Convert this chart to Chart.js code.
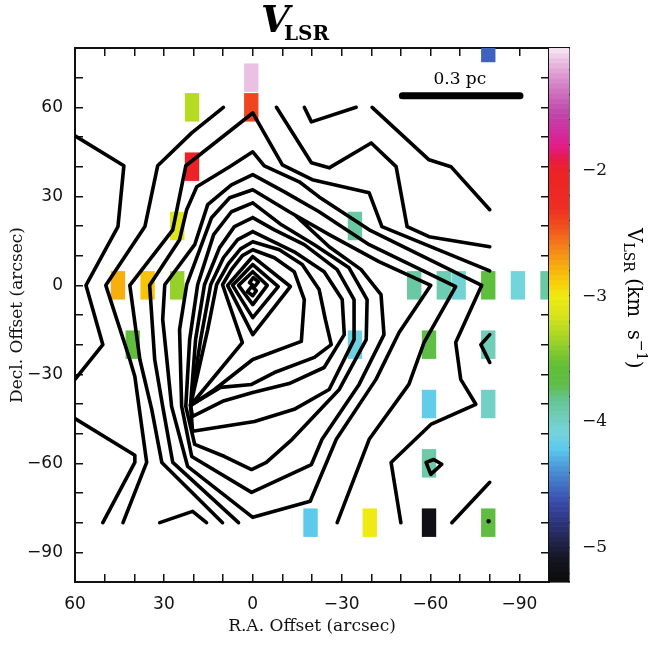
<!DOCTYPE html>
<html>
<head>
<meta charset="utf-8">
<script src="https://cdn.jsdelivr.net/npm/chart.js@4.4.1/dist/chart.umd.min.js"></script>
<style>
  html, body { margin: 0; padding: 0; background: #fff; }
  #wrap { position: relative; width: 654px; height: 645px; }
  #wrap canvas { position: absolute; left: 0; top: 0; }
</style>
</head>
<body>
<div id="wrap">
  <canvas id="map" width="654" height="645"></canvas>
  <canvas id="cbar" width="654" height="645"></canvas>
</div>
<script>
// VLSR map: velocity cells under the intensity contours, with the colour bar on the right.

// tick labels (arcsec, km/s)
const raLabels = [60, 30, 0, -30, -60, -90];
const decLabels = [60, 30, 0, -30, -60, -90];
const velLabels = [-2, -3, -4, -5];

// velocity cells: centre offsets and V_LSR (km/s)
const cellRA = [0.5, 0.5, 20.5, 20.5, 25.5, 45.5, 35.5, 25.5, 40.5, -79.5, -34.5, -54.5, -64.5, -69.5,
  -79.5, -89.5, -99.5, -34.5, -59.5, -79.5, -59.5, -79.5, -59.5, -19.5, -39.5, -59.5, -79.5];
const cellDec = [70, 60, 60, 40, 20, 0, 0, 0, -20, 80, 20, 0, 0, 0,
  0, 0, 0, -20, -20, -20, -40, -40, -60, -80, -80, -80, -80];
const cellVel = [-1.13, -2.4, -3.27, -2.0, -3.1, -2.77, -2.85, -3.38, -3.6, -4.55, -3.88, -3.88, -3.93, -4.05,
  -3.62, -4.08, -3.88, -4.12, -3.7, -3.95, -4.17, -4.0, -3.9, -4.2, -3.0, -5.2, -3.65];

// contours, [RA, Dec] in arcsec
const contourA = [[60, 50.4], [43.5, 40.3], [45.5, 19.8], [56.3, 0], [50.6, -20], [60, -31.7]];
const contourB = [[60, -44.9], [39.8, -57.3], [39.8, -59.7], [50.6, -80]];
const contourC = [[9.9, 60], [20.6, 51.4], [32.1, 40.3], [36.4, 19.8], [49.6, 0], [41.5, -25], [39.8, -30.7],
  [35.8, -59.7], [43.8, -80]];
const contourBump = [[31.4, -80], [20.3, -76.2], [15.6, -80]];
const contourTopV = [[-17.4, 60], [-19.8, 55.1], [-34.9, 60]];
const contourNE = [[-40.3, 60], [-59.5, 42.3], [-66.9, 40], [-80, 25.5]];
const contourF = [[-8, 60], [-19.8, 41.3], [-25.8, 39.6], [-40, 48], [-48.4, 40], [-52.1, 19.8], [-59.5, 16.4], [-80, 13]];
const contourD = [[10.2, -80], [30.7, -59.7], [34.1, -41.8], [38.1, -25], [41.5, 0], [27, 18.7], [22.6, 40.3],
  [0, 58.1], [-10, 40.6], [-20.1, 35.6], [-39.3, 31.2], [-43.6, 19.8], [-80, 4.9]];
const contourE = [[4.8, -80], [27, -59.7], [30.4, -40.8], [33.1, -25], [34.8, 0], [24.7, 15.4], [22.3, 25.5],
  [18.9, 33.2], [7.8, 40], [0, 45], [-3.9, 40.3], [-15.7, 34.9], [-22.4, 29.8], [-39.3, 18.7], [-77.3, 0],
  [-68.5, -19.3], [-70.2, -31.7], [-75.3, -40.1], [-60.1, -46.9], [-46.7, -59.7], [-50, -80]];
const contourG = [[-28.5, -80], [-39.3, -51.9], [-52.7, -33.4], [-57.8, -19.3], [-68.5, -0.4],
  [-39.3, 13.7], [-22.4, 24.8], [-10.7, 31.5], [0, 37.3],
  [7.2, 33.9], [15.2, 27.2], [19.6, 13.7], [29.7, 0.2], [30.4, -11.5], [29, -25], [27.4, -40.8], [22, -61],
  [0, -78.2], [-19.4, -72.8], [-28.2, -51.9], [-41.6, -31.7], [-49.4, -15.9], [-60.1, 0],
  [-42.6, 8], [-25.8, 17.1], [-12.3, 24.8], [0, 32.2],
  [7.8, 29.5], [13.9, 22.8], [17.9, 12], [22.3, 0.2], [24.7, -14.9], [24, -40.8], [20.6, -57.7],
  [0.4, -69.8], [-19.8, -60.4], [-23.4, -51.9],
  [-35.9, -33.4], [-44.3, -16.6], [-43.3, -3.1], [-36.6, 5.3], [-25.8, 13], [-14.4, 23.6]];
const contourI = [[0, 27.8], [7.2, 24.8], [13.2, 17.1], [18.6, 0.2], [21.3, -18.3], [22.6, -40.8], [19.6, -53.6],
  [9.5, -57.7], [0.4, -62.1], [-4.6, -59.7], [-13.3, -51.9], [-29.2, -35.1], [-38.3, -18.3], [-38.6, -4.8],
  [-32.5, 5.9], [-20.8, 13.7], [-9.7, 20.4], [0, 27.8]];
const contourJ = [[0, 22.8], [6.2, 19.8], [11.2, 12.7], [16.3, 0.2], [19.3, -18.3], [21, -40.5], [20.3, -49.2],
  [-0.6, -45.9], [-14, -41.8], [-25.8, -35.1], [-34.2, -18.3], [-34.2, -4.8], [-28.5, 5.3], [-17.4, 13.7],
  [-7.3, 18.7], [0, 22.8]];
const contourK = [[0, 18.1], [5.1, 15.4], [9.9, 9.3], [14.2, 0.2], [17.6, -18.3], [21, -40.5], [20.3, -44.2],
  [10.2, -39.1], [0, -36.1], [-12.3, -33.1], [-24.1, -27.7], [-30.9, -16.6], [-30.2, -4.8], [-24.1, 4.6],
  [-14, 11.3], [0, 18.1]];
const contourL = [[0, 14.7], [4.1, 12.3], [8.2, 7.3], [12.2, 0.2], [15.2, -14.9], [21, -40.5], [10.9, -34.4],
  [0.4, -33.4], [-7.3, -29.4], [-20.8, -24.3], [-26.5, -20], [-24.5, -11.5], [-22.4, -1.4], [-16.7, 7],
  [-9, 12], [0, 14.7]];
const contourM = [[0, 12], [3.5, 10], [7.2, 5.3], [10.2, 0.2], [3.5, -19.3], [21, -40.5], [12.9, -35.1],
  [0, -25], [-16.4, -18.9], [-17.4, -4.8], [-14, 4.6], [-7.3, 9.3], [0, 12]];
const contourP3 = [[0, 9.7], [8.5, 0], [0, -16.6], [-12.7, -0.4], [0, 9.7]];
const contourP2 = [[0, 7], [6.8, 0], [0, -10.9], [-8.6, -0.4], [0, 7]];
const contourP1 = [[0, 4.6], [4.8, 0], [0, -6.5], [-4.9, 0], [0, 4.6]];
const peakLoopN = [[-0.2, 2.6], [-1.9, 1.2], [-0.6, -0.4], [1.1, 0.9], [-0.2, 2.6]];
const peakLoopS = [[0.4, -0.4], [-1.2, -1.8], [0, -3.5], [1.8, -2.1], [0.4, -0.4]];
const contourHook = [[-80, -16.6], [-77, -20], [-80, -26]];
const contourLoop = [[-58.5, -59.7], [-61.1, -58.7], [-63.8, -60.3], [-60.1, -63.7], [-58.5, -59.7]];
const contourSE = [[-67.2, -80], [-80, -66.4]];
const contourDot = [[-79.6, -79.5]];

const contours = [contourA, contourB, contourC, contourBump, contourTopV, contourNE, contourF, contourD,
  contourE, contourG, contourI, contourJ, contourK, contourL, contourM, contourP3, contourP2, contourP1,
  peakLoopN, peakLoopS, contourHook, contourLoop, contourSE];

// 0.3 pc scale bar
const scaleBarRA = [-50.5, -90.2];
const scaleBarDec = 63.9;
const scaleBarText = '0.3 pc';
const scaleBarTextPos = [-69.9, 69.2];

// colour table for V_LSR
const cmapVel = [-5.27, -5.1, -4.95, -4.8, -4.65, -4.5, -4.35, -4.22, -4.08, -3.95, -3.82, -3.7, -3.55, -3.42,
  -3.28, -3.15, -3.0, -2.88, -2.75, -2.6, -2.45, -2.3, -2.0, -1.9, -1.8, -1.68, -1.55, -1.4, -1.25, -1.12, -1.03];
const cmapHex = ['#0c0c0c', '#141420', '#22244a', '#2c347a', '#3848a6', '#4270c4', '#4c9ad8', '#5ac8ee',
  '#74d4dc', '#70cdb8', '#66c492', '#5ebe48', '#62be36', '#88cc2e', '#b4da22', '#d8e41c', '#eeea12',
  '#f8cc0a', '#f6aa0e', '#f47e18', '#f0521e', '#ee2e22', '#ec2226', '#e81a4e', '#e21c8c', '#d02e9e',
  '#be46aa', '#cc6cbc', '#dc98d0', '#ebc4e4', '#f6e8f4'];
const velMin = -5.27;
const velMax = -1.03;

const cellHeight = 9.6;
const bandStep = 0.04;

const hexRgb = (h) => [1, 3, 5].map((i) => parseInt(h.slice(i, i + 2), 16));

const velColor = (v) => {
  if (v <= cmapVel[0]) return cmapHex[0];
  for (let i = 1; i < cmapVel.length; i++) {
    if (v <= cmapVel[i]) {
      const t = (v - cmapVel[i - 1]) / (cmapVel[i] - cmapVel[i - 1]);
      const a = hexRgb(cmapHex[i - 1]);
      const b = hexRgb(cmapHex[i]);
      return 'rgb(' + a.map((u, k) => Math.round(u + (b[k] - u) * t)).join(',') + ')';
    }
  }
  return cmapHex[cmapHex.length - 1];
};

const fmt = (v) => (v < 0 ? '\u2212' + Math.abs(v) : String(v));
const ink = '#111';

const contourDataset = (pts) => ({
  type: 'line',
  data: pts.map(([x, y]) => ({ x, y })),
  borderColor: '#000',
  borderWidth: 3.6,
  borderJoinStyle: 'round',
  borderCapStyle: 'round',
  pointRadius: 0,
  fill: false,
  tension: 0,
  order: 1,
});

const innerTicks = (len) => ({
  display: true,
  drawOnChartArea: false,
  drawTicks: true,
  tickLength: -len,
  color: ink,
  lineWidth: 1.5,
  offset: false,
});

const frame = { display: true, color: ink, width: 2 };

const mapAxis = (position, min, max, labels, size, title) => {
  const horizontal = position === 'top' || position === 'bottom';
  return {
    type: 'linear',
    position,
    min,
    max,
    reverse: horizontal,
    offset: false,
    grid: innerTicks(8),
    border: frame,
    ticks: {
      display: !!labels,
      stepSize: 10,
      autoSkip: false,
      maxRotation: 0,
      minRotation: 0,
      padding: 20,
      color: ink,
      font: { family: 'DejaVu Sans', size: 17 },
      callback: (v) => (labels && labels.includes(v) ? fmt(v) : ''),
    },
    title: title
      ? {
          display: true,
          text: title,
          color: ink,
          font: { family: 'DejaVu Serif', size: 17 },
          padding: horizontal ? { top: 0, bottom: 8 } : { top: 7, bottom: 0 },
        }
      : { display: false },
    afterFit: (s) => {
      if (horizontal) s.height = size;
      else s.width = size;
    },
  };
};

const mapLabels = {
  id: 'mapLabels',
  afterDraw(chart) {
    const { ctx, scales } = chart;
    ctx.save();
    ctx.fillStyle = '#000';
    ctx.textBaseline = 'alphabetic';
    ctx.font = 'italic bold 37px "DejaVu Serif"';
    ctx.fillText('V', 261, 32);
    ctx.font = 'bold 20px "DejaVu Serif"';
    ctx.fillText('LSR', 284, 40);
    ctx.font = '17px "DejaVu Serif"';
    ctx.textAlign = 'center';
    ctx.textBaseline = 'middle';
    ctx.fillText(scaleBarText, scales.x.getPixelForValue(scaleBarTextPos[0]), scales.y.getPixelForValue(scaleBarTextPos[1]));
    ctx.restore();
  },
};

new Chart(document.getElementById('map'), {
  type: 'scatter',
  data: {
    datasets: [
      {
        type: 'bar',
        data: cellRA.map((x, i) => ({ x, y: [cellDec[i] - cellHeight / 2, cellDec[i] + cellHeight / 2] })),
        backgroundColor: cellVel.map(velColor),
        borderWidth: 0,
        barPercentage: 0.97,
        categoryPercentage: 1,
        grouped: false,
        clip: 0,
        order: 5,
      },
      ...contours.map(contourDataset),
      {
        type: 'scatter',
        data: contourDot.map(([x, y]) => ({ x, y })),
        pointRadius: 2.2,
        pointBackgroundColor: '#000',
        pointBorderWidth: 0,
        order: 0,
      },
      {
        type: 'line',
        data: scaleBarRA.map((x) => ({ x, y: scaleBarDec })),
        borderColor: '#000',
        borderWidth: 7,
        borderCapStyle: 'round',
        pointRadius: 0,
        order: 0,
      },
    ],
  },
  options: {
    responsive: false,
    animation: false,
    devicePixelRatio: 1,
    layout: { padding: 0 },
    plugins: { legend: { display: false }, tooltip: { enabled: false } },
    scales: {
      x: mapAxis('bottom', -100, 60, raLabels, 63, 'R.A. Offset (arcsec)'),
      x2: mapAxis('top', -100, 60, null, 48, null),
      y: mapAxis('left', -100, 80, decLabels, 75, 'Decl. Offset (arcsec)'),
      y2: mapAxis('right', -100, 80, null, 105, null),
    },
  },
  plugins: [mapLabels],
});

// colour bar
const bands = [];
for (let v = velMin; v < velMax - 1e-9; v += bandStep) {
  const hi = Math.min(v + bandStep, velMax);
  bands.push({ lo: v, hi, mid: (v + hi) / 2 });
}

const cbarTitle = {
  id: 'cbarTitle',
  afterDraw(chart) {
    const ctx = chart.ctx;
    const parts = [['V', 20, 0], ['LSR', 14, 4], [' (km  s', 20, 0], ['\u22121', 14, -9], [')', 20, 0]];
    ctx.save();
    ctx.fillStyle = '#000';
    ctx.translate(628, 228);
    ctx.rotate(Math.PI / 2);
    let pos = 0;
    parts.forEach(([t, size, dy]) => {
      ctx.font = size + 'px "DejaVu Serif"';
      ctx.fillText(t, pos, dy);
      pos += ctx.measureText(t).width;
    });
    ctx.restore();
  },
};

const edgeOnly = (extra) => Object.assign({
  grid: { display: false },
  border: { display: true, color: ink, width: 1.6 },
  ticks: { display: false },
}, extra);

new Chart(document.getElementById('cbar'), {
  type: 'bar',
  data: {
    labels: ['cb'],
    datasets: [{
      data: bands.map((b) => ({ x: 'cb', y: [b.lo, b.hi] })),
      backgroundColor: bands.map((b) => velColor(b.mid)),
      borderWidth: 0,
      barPercentage: 1,
      categoryPercentage: 1,
      grouped: false,
    }],
  },
  options: {
    responsive: false,
    animation: false,
    devicePixelRatio: 1,
    layout: { padding: 0 },
    plugins: { legend: { display: false }, tooltip: { enabled: false } },
    scales: {
      x: edgeOnly({ type: 'category', position: 'bottom', offset: true, afterFit: (s) => { s.height = 63; } }),
      xt: edgeOnly({ type: 'category', position: 'top', offset: true, afterFit: (s) => { s.height = 48; } }),
      yl: edgeOnly({ type: 'linear', position: 'left', min: velMin, max: velMax, afterFit: (s) => { s.width = 549; } }),
      y: {
        type: 'linear',
        position: 'right',
        min: velMin,
        max: velMax,
        grid: { display: true, drawOnChartArea: false, drawTicks: true, tickLength: -4, color: ink, lineWidth: 1.3 },
        border: { display: true, color: ink, width: 1.6 },
        ticks: {
          stepSize: 0.2,
          includeBounds: false,
          autoSkip: false,
          padding: 17,
          color: ink,
          font: { family: 'DejaVu Serif', size: 17 },
          callback: (v) => {
            const r = Math.round(v);
            return Math.abs(v - r) < 1e-6 && velLabels.includes(r) ? fmt(r) : '';
          },
        },
        afterFit: (s) => { s.width = 85; },
      },
    },
  },
  plugins: [cbarTitle],
});
</script>
</body>
</html>
